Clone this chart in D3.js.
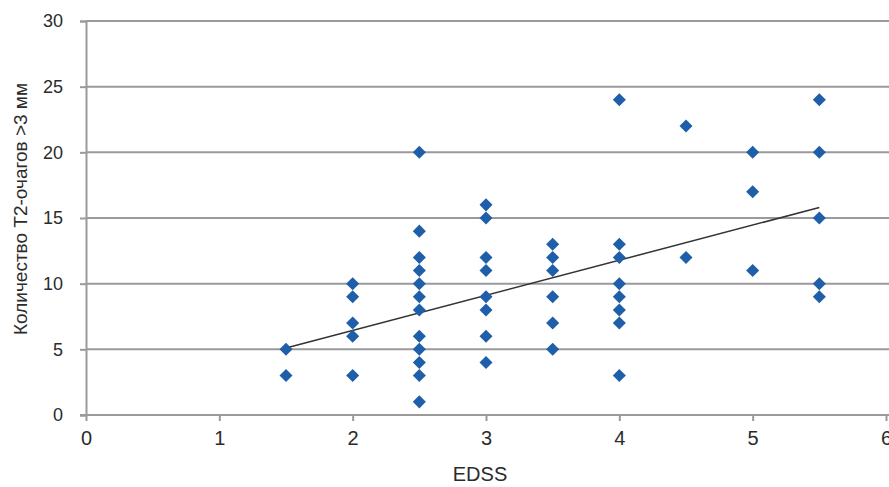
<!DOCTYPE html>
<html><head><meta charset="utf-8">
<script src="https://cdn.jsdelivr.net/npm/d3@7"></script>
<style>body{margin:0;background:#fff;} text{font-family:"Liberation Sans",Arial,sans-serif;fill:#2b2b2b;}</style>
</head><body>
<svg id="c" width="889" height="487"></svg>
<script>
// Data
const edss = [1.5,1.5, 2,2,2,2,2, 2.5,2.5,2.5,2.5,2.5,2.5,2.5,2.5,2.5,2.5,2.5,2.5, 3,3,3,3,3,3,3,3, 3.5,3.5,3.5,3.5,3.5,3.5, 4,4,4,4,4,4,4,4, 4.5,4.5, 5,5,5, 5.5,5.5,5.5,5.5,5.5];
const lesions = [5,3, 10,9,7,6,3, 20,14,12,11,10,9,8,6,5,4,3,1, 16,15,12,11,9,8,6,4, 13,12,11,9,7,5, 24,13,12,10,9,8,7,3, 22,12, 20,17,11, 24,20,15,10,9];
const trendX = [1.5, 5.5];
const trendY = [5.1, 15.8];
const xTicks = [0,1,2,3,4,5,6];
const yTicks = [0,5,10,15,20,25,30];
const xTitle = "EDSS";
const yTitle = "Количество Т2-очагов >3 мм";

const svg = d3.select("#c");
const L = 86, R = 886, T = 21, B = 415;
const x = d3.scaleLinear().domain([0,6]).range([L,R]);
const y = d3.scaleLinear().domain([0,30]).range([B,T]);

// gridlines
svg.append("g").selectAll("line").data(yTicks.filter(d=>d>0)).join("line")
  .attr("x1", L).attr("x2", 889).attr("y1", d=>y(d)).attr("y2", d=>y(d))
  .attr("stroke", "#9a9a9a").attr("stroke-width", 2);

// y axis
const ya = svg.append("g").attr("transform", `translate(${L},0)`)
  .call(d3.axisLeft(y).tickValues(yTicks).tickFormat(d3.format("d")).tickSize(6).tickPadding(17));
ya.select(".domain").attr("stroke","#9a9a9a").attr("stroke-width",2);
ya.selectAll(".tick line").attr("stroke","#9a9a9a").attr("stroke-width",2);
ya.selectAll("text").attr("font-size",18).style("fill","#2b2b2b");

// x axis
const xa = svg.append("g").attr("transform", `translate(0,${B})`)
  .call(d3.axisBottom(x).tickValues(xTicks).tickFormat(d3.format("d")).tickSize(6).tickPadding(10));
xa.select(".domain").attr("stroke","#9a9a9a").attr("stroke-width",2).attr("d", `M${L-6},0H889`);
xa.selectAll(".tick line").attr("stroke","#9a9a9a").attr("stroke-width",2);
xa.selectAll("text").attr("font-size",20).style("fill","#2b2b2b");

// trend line
svg.append("line")
  .attr("x1", x(trendX[0])).attr("y1", y(trendY[0]))
  .attr("x2", x(trendX[1])).attr("y2", y(trendY[1]))
  .attr("stroke", "#333").attr("stroke-width", 1.5);

// diamonds
const sym = d3.symbol().type(d3.symbolSquare).size(85);
svg.append("g").selectAll("path").data(edss.map((e,i)=>[e,lesions[i]])).join("path")
  .attr("d", sym)
  .attr("transform", d=>`translate(${x(d[0])},${y(d[1])}) rotate(45)`)
  .attr("fill", "#1f5ea8");

// titles
svg.append("text").attr("x", 480).attr("y", 481).attr("text-anchor","middle")
  .attr("font-size",20).text(xTitle);
svg.append("text").attr("transform","translate(27,209) rotate(-90)").attr("text-anchor","middle")
  .attr("font-size",19).text(yTitle);
</script>
</body></html>
